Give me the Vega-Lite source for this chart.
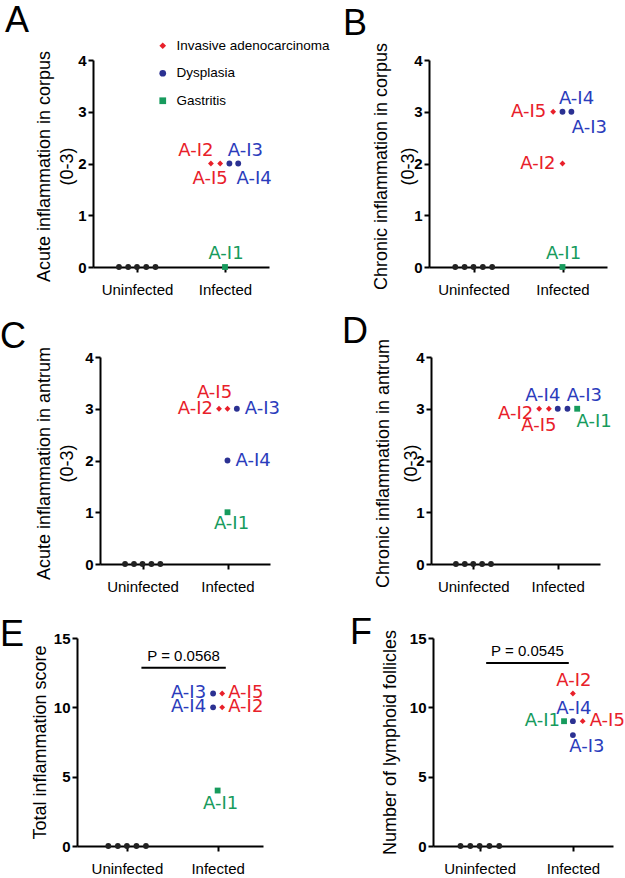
{
  "$schema": "https://vega.github.io/schema/vega-lite/v6.json",
  "background": "white",
  "padding": {"left": 0, "top": 3, "right": 0, "bottom": 0},
  "datasets": {
    "pts": [
      {"panel":"A","type":"Uninfected","id":"","dir":"","x":0.795,"y":0},
      {"panel":"A","type":"Uninfected","id":"","dir":"","x":0.9,"y":0},
      {"panel":"A","type":"Uninfected","id":"","dir":"","x":1.0,"y":0},
      {"panel":"A","type":"Uninfected","id":"","dir":"","x":1.105,"y":0},
      {"panel":"A","type":"Uninfected","id":"","dir":"","x":1.21,"y":0},
      {"panel":"A","type":"Invasive adenocarcinoma","id":"A-I2","dir":"nw","x":1.84,"y":2},
      {"panel":"A","type":"Invasive adenocarcinoma","id":"A-I5","dir":"sw","x":1.945,"y":2},
      {"panel":"A","type":"Dysplasia","id":"A-I3","dir":"ne","x":2.05,"y":2},
      {"panel":"A","type":"Dysplasia","id":"A-I4","dir":"se","x":2.15,"y":2},
      {"panel":"A","type":"Gastritis","id":"A-I1","dir":"n","x":2.0,"y":0},

      {"panel":"B","type":"Uninfected","id":"","dir":"","x":0.795,"y":0},
      {"panel":"B","type":"Uninfected","id":"","dir":"","x":0.9,"y":0},
      {"panel":"B","type":"Uninfected","id":"","dir":"","x":1.0,"y":0},
      {"panel":"B","type":"Uninfected","id":"","dir":"","x":1.105,"y":0},
      {"panel":"B","type":"Uninfected","id":"","dir":"","x":1.21,"y":0},
      {"panel":"B","type":"Invasive adenocarcinoma","id":"A-I5","dir":"w","x":1.895,"y":3},
      {"panel":"B","type":"Dysplasia","id":"A-I4","dir":"ne","x":2.0,"y":3},
      {"panel":"B","type":"Dysplasia","id":"A-I3","dir":"se","x":2.1,"y":3},
      {"panel":"B","type":"Invasive adenocarcinoma","id":"A-I2","dir":"w","x":2.0,"y":2},
      {"panel":"B","type":"Gastritis","id":"A-I1","dir":"n","x":2.0,"y":0},

      {"panel":"C","type":"Uninfected","id":"","dir":"","x":0.795,"y":0},
      {"panel":"C","type":"Uninfected","id":"","dir":"","x":0.9,"y":0},
      {"panel":"C","type":"Uninfected","id":"","dir":"","x":1.0,"y":0},
      {"panel":"C","type":"Uninfected","id":"","dir":"","x":1.105,"y":0},
      {"panel":"C","type":"Uninfected","id":"","dir":"","x":1.21,"y":0},
      {"panel":"C","type":"Invasive adenocarcinoma","id":"A-I2","dir":"w","x":1.9,"y":3},
      {"panel":"C","type":"Invasive adenocarcinoma","id":"A-I5","dir":"nw","x":2.0,"y":3},
      {"panel":"C","type":"Dysplasia","id":"A-I3","dir":"e","x":2.11,"y":3},
      {"panel":"C","type":"Dysplasia","id":"A-I4","dir":"e","x":2.0,"y":2},
      {"panel":"C","type":"Gastritis","id":"A-I1","dir":"s","x":2.0,"y":1},

      {"panel":"D","type":"Uninfected","id":"","dir":"","x":0.795,"y":0},
      {"panel":"D","type":"Uninfected","id":"","dir":"","x":0.9,"y":0},
      {"panel":"D","type":"Uninfected","id":"","dir":"","x":1.0,"y":0},
      {"panel":"D","type":"Uninfected","id":"","dir":"","x":1.105,"y":0},
      {"panel":"D","type":"Uninfected","id":"","dir":"","x":1.21,"y":0},
      {"panel":"D","type":"Invasive adenocarcinoma","id":"A-I2","dir":"w","x":1.78,"y":3},
      {"panel":"D","type":"Invasive adenocarcinoma","id":"A-I5","dir":"sw","x":1.895,"y":3},
      {"panel":"D","type":"Dysplasia","id":"A-I4","dir":"nw","x":2.0,"y":3},
      {"panel":"D","type":"Dysplasia","id":"A-I3","dir":"ne","x":2.115,"y":3},
      {"panel":"D","type":"Gastritis","id":"A-I1","dir":"se","x":2.23,"y":3},

      {"panel":"E","type":"Uninfected","id":"","dir":"","x":0.795,"y":0},
      {"panel":"E","type":"Uninfected","id":"","dir":"","x":0.9,"y":0},
      {"panel":"E","type":"Uninfected","id":"","dir":"","x":1.0,"y":0},
      {"panel":"E","type":"Uninfected","id":"","dir":"","x":1.105,"y":0},
      {"panel":"E","type":"Uninfected","id":"","dir":"","x":1.21,"y":0},
      {"panel":"E","type":"Dysplasia","id":"A-I3","dir":"w","x":1.95,"y":11},
      {"panel":"E","type":"Dysplasia","id":"A-I4","dir":"w","x":1.95,"y":10},
      {"panel":"E","type":"Invasive adenocarcinoma","id":"A-I5","dir":"e","x":2.05,"y":11},
      {"panel":"E","type":"Invasive adenocarcinoma","id":"A-I2","dir":"e","x":2.05,"y":10},
      {"panel":"E","type":"Gastritis","id":"A-I1","dir":"s","x":2.0,"y":4},

      {"panel":"F","type":"Uninfected","id":"","dir":"","x":0.795,"y":0},
      {"panel":"F","type":"Uninfected","id":"","dir":"","x":0.9,"y":0},
      {"panel":"F","type":"Uninfected","id":"","dir":"","x":1.0,"y":0},
      {"panel":"F","type":"Uninfected","id":"","dir":"","x":1.105,"y":0},
      {"panel":"F","type":"Uninfected","id":"","dir":"","x":1.21,"y":0},
      {"panel":"F","type":"Invasive adenocarcinoma","id":"A-I2","dir":"n","x":2.0,"y":11},
      {"panel":"F","type":"Dysplasia","id":"A-I4","dir":"n","x":2.0,"y":9},
      {"panel":"F","type":"Gastritis","id":"A-I1","dir":"w","x":1.905,"y":9},
      {"panel":"F","type":"Invasive adenocarcinoma","id":"A-I5","dir":"e","x":2.105,"y":9},
      {"panel":"F","type":"Dysplasia","id":"A-I3","dir":"se","x":2.0,"y":8}
    ],
    "pv": [
      {"panel":"E","kind":"line","x":1.16,"x2":2.09,"y":12.85,"label":""},
      {"panel":"E","kind":"text","x":1.625,"x2":1.625,"y":12.85,"label":"P = 0.0568"},
      {"panel":"F","kind":"line","x":1.07,"x2":1.956,"y":13.2,"label":""},
      {"panel":"F","kind":"text","x":1.513,"x2":1.513,"y":13.2,"label":"P = 0.0545"}
    ]
  },
  "spacing": 17,
  "resolve": {"scale": {"color": "independent", "shape": "independent", "fill": "independent"}},
  "vconcat": [
    {
      "hconcat": [
        {"width": 93, "height": 10, "data": {"values": [{}]}, "mark": {"type": "text", "opacity": 0}, "encoding": {"text": {"value": ""}}},
        {
          "width": 176, "height": 207,
          "title": {"text": "A", "anchor": "start", "frame": "group", "offset": 0, "dx": -88, "dy": 29, "fontSize": 36, "font": "Liberation Sans", "fontWeight": "normal", "color": "black", "baseline": "alphabetic"},
          "data": {"name": "pts"},
          "transform": [{"filter": "datum.panel == 'A'"}],
          "encoding": {
            "x": {"field": "x", "type": "quantitative", "scale": {"domain": [0.5, 2.5], "nice": false, "zero": false}, "axis": {"values": [1, 2], "labelExpr": "datum.value == 1 ? 'Uninfected' : 'Infected'", "title": null}},
            "y": {"field": "y", "type": "quantitative", "scale": {"domain": [0, 4], "nice": false}, "axis": {"values": [0, 1, 2, 3, 4], "format": "d", "title": ["Acute inflammation in corpus", "(0-3)"], "titleX": -39.5, "titleY": 106, "titleLineHeight": 23}}
          },
          "layer": [
            {"mark": {"type": "point", "filled": true, "opacity": 1, "size": 34},
             "encoding": {
               "color": {"field": "type", "type": "nominal", "scale": {"domain": ["Invasive adenocarcinoma", "Dysplasia", "Gastritis", "Uninfected"], "range": ["#e8202a", "#2b3192", "#179b5d", "#222222"]},
                 "legend": {"title": null, "orient": "none", "legendX": 63, "legendY": -21, "values": ["Invasive adenocarcinoma", "Dysplasia", "Gastritis"], "padding": 0, "labelFont": "Liberation Sans", "labelFontSize": 13.5, "labelColor": "black", "labelLimit": 300, "labelOffset": 7, "rowPadding": 12.5, "symbolSize": 45, "symbolStrokeWidth": 0}},
               "shape": {"field": "type", "type": "nominal", "scale": {"domain": ["Invasive adenocarcinoma", "Dysplasia", "Gastritis", "Uninfected"], "range": ["diamond", "circle", "square", "circle"]},
                 "legend": {"title": null, "orient": "none", "legendX": 63, "legendY": -21, "values": ["Invasive adenocarcinoma", "Dysplasia", "Gastritis"], "padding": 0, "labelFont": "Liberation Sans", "labelFontSize": 13.5, "labelColor": "black", "labelLimit": 300, "labelOffset": 7, "rowPadding": 12.5, "symbolSize": 45, "symbolStrokeWidth": 0}}
             }},
            {"transform": [{"filter": "datum.dir == 'nw'"}], "mark": {"type": "text", "font": "DejaVu Sans", "fontSize": 18, "align": "center", "baseline": "middle", "dx": -15, "dy": -13}, "encoding": {"text": {"field": "id"}, "fill": {"field": "type", "type": "nominal", "scale": {"domain": ["Invasive adenocarcinoma", "Dysplasia", "Gastritis", "Uninfected"], "range": ["#e8202a", "#2b3cbc", "#179b5d", "#222222"]}, "legend": null}}},
            {"transform": [{"filter": "datum.dir == 'sw'"}], "mark": {"type": "text", "font": "DejaVu Sans", "fontSize": 18, "align": "center", "baseline": "middle", "dx": -10, "dy": 15}, "encoding": {"text": {"field": "id"}, "fill": {"field": "type", "type": "nominal", "scale": {"domain": ["Invasive adenocarcinoma", "Dysplasia", "Gastritis", "Uninfected"], "range": ["#e8202a", "#2b3cbc", "#179b5d", "#222222"]}, "legend": null}}},
            {"transform": [{"filter": "datum.dir == 'ne'"}], "mark": {"type": "text", "font": "DejaVu Sans", "fontSize": 18, "align": "center", "baseline": "middle", "dx": 16, "dy": -13}, "encoding": {"text": {"field": "id"}, "fill": {"field": "type", "type": "nominal", "scale": {"domain": ["Invasive adenocarcinoma", "Dysplasia", "Gastritis", "Uninfected"], "range": ["#e8202a", "#2b3cbc", "#179b5d", "#222222"]}, "legend": null}}},
            {"transform": [{"filter": "datum.dir == 'se'"}], "mark": {"type": "text", "font": "DejaVu Sans", "fontSize": 18, "align": "center", "baseline": "middle", "dx": 16, "dy": 15}, "encoding": {"text": {"field": "id"}, "fill": {"field": "type", "type": "nominal", "scale": {"domain": ["Invasive adenocarcinoma", "Dysplasia", "Gastritis", "Uninfected"], "range": ["#e8202a", "#2b3cbc", "#179b5d", "#222222"]}, "legend": null}}},
            {"transform": [{"filter": "datum.dir == 'n'"}], "mark": {"type": "text", "font": "DejaVu Sans", "fontSize": 18, "align": "center", "baseline": "middle", "dx": 1, "dy": -13}, "encoding": {"text": {"field": "id"}, "fill": {"field": "type", "type": "nominal", "scale": {"domain": ["Invasive adenocarcinoma", "Dysplasia", "Gastritis", "Uninfected"], "range": ["#e8202a", "#2b3cbc", "#179b5d", "#222222"]}, "legend": null}}}
          ]
        },
        {"width": 160, "height": 10, "data": {"values": [{}]}, "mark": {"type": "text", "opacity": 0}, "encoding": {"text": {"value": ""}}},
        {
          "width": 178, "height": 207,
          "title": {"text": "B", "anchor": "start", "frame": "group", "offset": 0, "dx": -86, "dy": 29, "fontSize": 36, "font": "Liberation Sans", "fontWeight": "normal", "color": "black", "baseline": "alphabetic"},
          "data": {"name": "pts"},
          "transform": [{"filter": "datum.panel == 'B'"}],
          "encoding": {
            "x": {"field": "x", "type": "quantitative", "scale": {"domain": [0.5, 2.5], "nice": false, "zero": false}, "axis": {"values": [1, 2], "labelExpr": "datum.value == 1 ? 'Uninfected' : 'Infected'", "title": null}},
            "y": {"field": "y", "type": "quantitative", "scale": {"domain": [0, 4], "nice": false}, "axis": {"values": [0, 1, 2, 3, 4], "format": "d", "title": ["Chronic inflammation in corpus", "(0-3)"], "titleX": -38.5, "titleY": 106, "titleLineHeight": 27}}
          },
          "layer": [
            {"mark": {"type": "point", "filled": true, "opacity": 1, "size": 34},
             "encoding": {
               "color": {"field": "type", "type": "nominal", "scale": {"domain": ["Invasive adenocarcinoma", "Dysplasia", "Gastritis", "Uninfected"], "range": ["#e8202a", "#2b3192", "#179b5d", "#222222"]}, "legend": null},
               "shape": {"field": "type", "type": "nominal", "scale": {"domain": ["Invasive adenocarcinoma", "Dysplasia", "Gastritis", "Uninfected"], "range": ["diamond", "circle", "square", "circle"]}, "legend": null}
             }},
            {"transform": [{"filter": "datum.dir == 'w'"}], "mark": {"type": "text", "font": "DejaVu Sans", "fontSize": 18, "align": "right", "baseline": "middle", "dx": -7, "dy": 0}, "encoding": {"text": {"field": "id"}, "fill": {"field": "type", "type": "nominal", "scale": {"domain": ["Invasive adenocarcinoma", "Dysplasia", "Gastritis", "Uninfected"], "range": ["#e8202a", "#2b3cbc", "#179b5d", "#222222"]}, "legend": null}}},
            {"transform": [{"filter": "datum.dir == 'ne'"}], "mark": {"type": "text", "font": "DejaVu Sans", "fontSize": 18, "align": "center", "baseline": "middle", "dx": 14, "dy": -13}, "encoding": {"text": {"field": "id"}, "fill": {"field": "type", "type": "nominal", "scale": {"domain": ["Invasive adenocarcinoma", "Dysplasia", "Gastritis", "Uninfected"], "range": ["#e8202a", "#2b3cbc", "#179b5d", "#222222"]}, "legend": null}}},
            {"transform": [{"filter": "datum.dir == 'se'"}], "mark": {"type": "text", "font": "DejaVu Sans", "fontSize": 18, "align": "center", "baseline": "middle", "dx": 18, "dy": 16}, "encoding": {"text": {"field": "id"}, "fill": {"field": "type", "type": "nominal", "scale": {"domain": ["Invasive adenocarcinoma", "Dysplasia", "Gastritis", "Uninfected"], "range": ["#e8202a", "#2b3cbc", "#179b5d", "#222222"]}, "legend": null}}},
            {"transform": [{"filter": "datum.dir == 'n'"}], "mark": {"type": "text", "font": "DejaVu Sans", "fontSize": 18, "align": "center", "baseline": "middle", "dx": 1, "dy": -13}, "encoding": {"text": {"field": "id"}, "fill": {"field": "type", "type": "nominal", "scale": {"domain": ["Invasive adenocarcinoma", "Dysplasia", "Gastritis", "Uninfected"], "range": ["#e8202a", "#2b3cbc", "#179b5d", "#222222"]}, "legend": null}}}
          ]
        }
      ],
      "spacing": 0,
      "bounds": "flush",
      "resolve": {"scale": {"color": "independent", "shape": "independent", "fill": "independent"}}
    },
    {
      "spacing": 21,
      "resolve": {"scale": {"color": "independent", "shape": "independent", "fill": "independent"}},
      "vconcat": [
        {
          "hconcat": [
            {"width": 100, "height": 10, "data": {"values": [{}]}, "mark": {"type": "text", "opacity": 0}, "encoding": {"text": {"value": ""}}},
            {
              "width": 170, "height": 207,
              "title": {"text": "C", "anchor": "start", "frame": "group", "offset": 0, "dx": -100, "dy": 38, "fontSize": 36, "font": "Liberation Sans", "fontWeight": "normal", "color": "black", "baseline": "alphabetic"},
              "data": {"name": "pts"},
              "transform": [{"filter": "datum.panel == 'C'"}],
              "encoding": {
                "x": {"field": "x", "type": "quantitative", "scale": {"domain": [0.5, 2.5], "nice": false, "zero": false}, "axis": {"values": [1, 2], "labelExpr": "datum.value == 1 ? 'Uninfected' : 'Infected'", "title": null}},
                "y": {"field": "y", "type": "quantitative", "scale": {"domain": [0, 4], "nice": false}, "axis": {"values": [0, 1, 2, 3, 4], "format": "d", "title": ["Acute inflammation in antrum", "(0-3)"], "titleX": -46.5, "titleY": 106, "titleLineHeight": 23}}
              },
              "layer": [
                {"mark": {"type": "point", "filled": true, "opacity": 1, "size": 34},
                 "encoding": {
                   "color": {"field": "type", "type": "nominal", "scale": {"domain": ["Invasive adenocarcinoma", "Dysplasia", "Gastritis", "Uninfected"], "range": ["#e8202a", "#2b3192", "#179b5d", "#222222"]}, "legend": null},
                   "shape": {"field": "type", "type": "nominal", "scale": {"domain": ["Invasive adenocarcinoma", "Dysplasia", "Gastritis", "Uninfected"], "range": ["diamond", "circle", "square", "circle"]}, "legend": null}
                 }},
                {"transform": [{"filter": "datum.dir == 'w'"}], "mark": {"type": "text", "font": "DejaVu Sans", "fontSize": 18, "align": "right", "baseline": "middle", "dx": -6, "dy": 0}, "encoding": {"text": {"field": "id"}, "fill": {"field": "type", "type": "nominal", "scale": {"domain": ["Invasive adenocarcinoma", "Dysplasia", "Gastritis", "Uninfected"], "range": ["#e8202a", "#2b3cbc", "#179b5d", "#222222"]}, "legend": null}}},
                {"transform": [{"filter": "datum.dir == 'nw'"}], "mark": {"type": "text", "font": "DejaVu Sans", "fontSize": 18, "align": "center", "baseline": "middle", "dx": -13, "dy": -16}, "encoding": {"text": {"field": "id"}, "fill": {"field": "type", "type": "nominal", "scale": {"domain": ["Invasive adenocarcinoma", "Dysplasia", "Gastritis", "Uninfected"], "range": ["#e8202a", "#2b3cbc", "#179b5d", "#222222"]}, "legend": null}}},
                {"transform": [{"filter": "datum.dir == 'e'"}], "mark": {"type": "text", "font": "DejaVu Sans", "fontSize": 18, "align": "left", "baseline": "middle", "dx": 8, "dy": 0}, "encoding": {"text": {"field": "id"}, "fill": {"field": "type", "type": "nominal", "scale": {"domain": ["Invasive adenocarcinoma", "Dysplasia", "Gastritis", "Uninfected"], "range": ["#e8202a", "#2b3cbc", "#179b5d", "#222222"]}, "legend": null}}},
                {"transform": [{"filter": "datum.dir == 's'"}], "mark": {"type": "text", "font": "DejaVu Sans", "fontSize": 18, "align": "center", "baseline": "middle", "dx": 4, "dy": 12}, "encoding": {"text": {"field": "id"}, "fill": {"field": "type", "type": "nominal", "scale": {"domain": ["Invasive adenocarcinoma", "Dysplasia", "Gastritis", "Uninfected"], "range": ["#e8202a", "#2b3cbc", "#179b5d", "#222222"]}, "legend": null}}}
              ]
            },
            {"width": 161, "height": 10, "data": {"values": [{}]}, "mark": {"type": "text", "opacity": 0}, "encoding": {"text": {"value": ""}}},
            {
              "width": 169, "height": 207,
              "title": {"text": "D", "anchor": "start", "frame": "group", "offset": 0, "dx": -89, "dy": 41, "fontSize": 36, "font": "Liberation Sans", "fontWeight": "normal", "color": "black", "baseline": "alphabetic"},
              "data": {"name": "pts"},
              "transform": [{"filter": "datum.panel == 'D'"}],
              "encoding": {
                "x": {"field": "x", "type": "quantitative", "scale": {"domain": [0.5, 2.5], "nice": false, "zero": false}, "axis": {"values": [1, 2], "labelExpr": "datum.value == 1 ? 'Uninfected' : 'Infected'", "title": null}},
                "y": {"field": "y", "type": "quantitative", "scale": {"domain": [0, 4], "nice": false}, "axis": {"values": [0, 1, 2, 3, 4], "format": "d", "title": ["Chronic inflammation in antrum", "(0-3)"], "titleX": -39, "titleY": 106, "titleLineHeight": 28}}
              },
              "layer": [
                {"mark": {"type": "point", "filled": true, "opacity": 1, "size": 34},
                 "encoding": {
                   "color": {"field": "type", "type": "nominal", "scale": {"domain": ["Invasive adenocarcinoma", "Dysplasia", "Gastritis", "Uninfected"], "range": ["#e8202a", "#2b3192", "#179b5d", "#222222"]}, "legend": null},
                   "shape": {"field": "type", "type": "nominal", "scale": {"domain": ["Invasive adenocarcinoma", "Dysplasia", "Gastritis", "Uninfected"], "range": ["diamond", "circle", "square", "circle"]}, "legend": null}
                 }},
                {"transform": [{"filter": "datum.dir == 'w'"}], "mark": {"type": "text", "font": "DejaVu Sans", "fontSize": 18, "align": "right", "baseline": "middle", "dx": -6, "dy": 5}, "encoding": {"text": {"field": "id"}, "fill": {"field": "type", "type": "nominal", "scale": {"domain": ["Invasive adenocarcinoma", "Dysplasia", "Gastritis", "Uninfected"], "range": ["#e8202a", "#2b3cbc", "#179b5d", "#222222"]}, "legend": null}}},
                {"transform": [{"filter": "datum.dir == 'sw'"}], "mark": {"type": "text", "font": "DejaVu Sans", "fontSize": 18, "align": "center", "baseline": "middle", "dx": -10, "dy": 17}, "encoding": {"text": {"field": "id"}, "fill": {"field": "type", "type": "nominal", "scale": {"domain": ["Invasive adenocarcinoma", "Dysplasia", "Gastritis", "Uninfected"], "range": ["#e8202a", "#2b3cbc", "#179b5d", "#222222"]}, "legend": null}}},
                {"transform": [{"filter": "datum.dir == 'nw'"}], "mark": {"type": "text", "font": "DejaVu Sans", "fontSize": 18, "align": "center", "baseline": "middle", "dx": -15, "dy": -13}, "encoding": {"text": {"field": "id"}, "fill": {"field": "type", "type": "nominal", "scale": {"domain": ["Invasive adenocarcinoma", "Dysplasia", "Gastritis", "Uninfected"], "range": ["#e8202a", "#2b3cbc", "#179b5d", "#222222"]}, "legend": null}}},
                {"transform": [{"filter": "datum.dir == 'ne'"}], "mark": {"type": "text", "font": "DejaVu Sans", "fontSize": 18, "align": "center", "baseline": "middle", "dx": 17, "dy": -13}, "encoding": {"text": {"field": "id"}, "fill": {"field": "type", "type": "nominal", "scale": {"domain": ["Invasive adenocarcinoma", "Dysplasia", "Gastritis", "Uninfected"], "range": ["#e8202a", "#2b3cbc", "#179b5d", "#222222"]}, "legend": null}}},
                {"transform": [{"filter": "datum.dir == 'se'"}], "mark": {"type": "text", "font": "DejaVu Sans", "fontSize": 18, "align": "center", "baseline": "middle", "dx": 17, "dy": 13}, "encoding": {"text": {"field": "id"}, "fill": {"field": "type", "type": "nominal", "scale": {"domain": ["Invasive adenocarcinoma", "Dysplasia", "Gastritis", "Uninfected"], "range": ["#e8202a", "#2b3cbc", "#179b5d", "#222222"]}, "legend": null}}}
              ]
            }
          ],
          "spacing": 0,
          "bounds": "flush",
          "resolve": {"scale": {"color": "independent", "shape": "independent", "fill": "independent"}}
        },
        {
          "hconcat": [
            {"width": 77, "height": 10, "data": {"values": [{}]}, "mark": {"type": "text", "opacity": 0}, "encoding": {"text": {"value": ""}}},
            {
              "width": 186, "height": 208,
              "title": {"text": "E", "anchor": "start", "frame": "group", "offset": 0, "dx": -77, "dy": 51, "fontSize": 36, "font": "Liberation Sans", "fontWeight": "normal", "color": "black", "baseline": "alphabetic"},
              "data": {"name": "pts"},
              "transform": [{"filter": "datum.panel == 'E'"}],
              "encoding": {
                "x": {"field": "x", "type": "quantitative", "scale": {"domain": [0.45, 2.5], "nice": false, "zero": false}, "axis": {"values": [1, 2], "labelExpr": "datum.value == 1 ? 'Uninfected' : 'Infected'", "title": null}},
                "y": {"field": "y", "type": "quantitative", "scale": {"domain": [0, 15], "nice": false}, "axis": {"values": [0, 5, 10, 15], "format": "d", "title": "Total inflammation score", "titleX": -27.5}}
              },
              "layer": [
                {"mark": {"type": "point", "filled": true, "opacity": 1, "size": 34},
                 "encoding": {
                   "color": {"field": "type", "type": "nominal", "scale": {"domain": ["Invasive adenocarcinoma", "Dysplasia", "Gastritis", "Uninfected"], "range": ["#e8202a", "#2b3192", "#179b5d", "#222222"]}, "legend": null},
                   "shape": {"field": "type", "type": "nominal", "scale": {"domain": ["Invasive adenocarcinoma", "Dysplasia", "Gastritis", "Uninfected"], "range": ["diamond", "circle", "square", "circle"]}, "legend": null}
                 }},
                {"transform": [{"filter": "datum.dir == 'w'"}], "mark": {"type": "text", "font": "DejaVu Sans", "fontSize": 18, "align": "right", "baseline": "middle", "dx": -7, "dy": 0}, "encoding": {"text": {"field": "id"}, "fill": {"field": "type", "type": "nominal", "scale": {"domain": ["Invasive adenocarcinoma", "Dysplasia", "Gastritis", "Uninfected"], "range": ["#e8202a", "#2b3cbc", "#179b5d", "#222222"]}, "legend": null}}},
                {"transform": [{"filter": "datum.dir == 'e'"}], "mark": {"type": "text", "font": "DejaVu Sans", "fontSize": 18, "align": "left", "baseline": "middle", "dx": 6, "dy": 0}, "encoding": {"text": {"field": "id"}, "fill": {"field": "type", "type": "nominal", "scale": {"domain": ["Invasive adenocarcinoma", "Dysplasia", "Gastritis", "Uninfected"], "range": ["#e8202a", "#2b3cbc", "#179b5d", "#222222"]}, "legend": null}}},
                {"transform": [{"filter": "datum.dir == 's'"}], "mark": {"type": "text", "font": "DejaVu Sans", "fontSize": 18, "align": "center", "baseline": "middle", "dx": 3, "dy": 13}, "encoding": {"text": {"field": "id"}, "fill": {"field": "type", "type": "nominal", "scale": {"domain": ["Invasive adenocarcinoma", "Dysplasia", "Gastritis", "Uninfected"], "range": ["#e8202a", "#2b3cbc", "#179b5d", "#222222"]}, "legend": null}}},
                {"data": {"name": "pv"}, "transform": [{"filter": "datum.panel == 'E' && datum.kind == 'line'"}], "mark": {"type": "rule", "strokeWidth": 2, "color": "black"}, "encoding": {"x2": {"field": "x2"}}},
                {"data": {"name": "pv"}, "transform": [{"filter": "datum.panel == 'E' && datum.kind == 'text'"}], "mark": {"type": "text", "font": "Liberation Sans", "fontSize": 15, "align": "center", "baseline": "middle", "dy": -12, "color": "black"}, "encoding": {"text": {"field": "label"}}}
              ]
            },
            {"width": 170, "height": 10, "data": {"values": [{}]}, "mark": {"type": "text", "opacity": 0}, "encoding": {"text": {"value": ""}}},
            {
              "width": 180, "height": 208,
              "title": {"text": "F", "anchor": "start", "frame": "group", "offset": 0, "dx": -83, "dy": 51, "fontSize": 36, "font": "Liberation Sans", "fontWeight": "normal", "color": "black", "baseline": "alphabetic"},
              "data": {"name": "pts"},
              "transform": [{"filter": "datum.panel == 'F'"}],
              "encoding": {
                "x": {"field": "x", "type": "quantitative", "scale": {"domain": [0.5, 2.43], "nice": false, "zero": false}, "axis": {"values": [1, 2], "labelExpr": "datum.value == 1 ? 'Uninfected' : 'Infected'", "title": null}},
                "y": {"field": "y", "type": "quantitative", "scale": {"domain": [0, 15], "nice": false}, "axis": {"values": [0, 5, 10, 15], "format": "d", "title": "Number of lymphoid follicles", "titleX": -33.5}}
              },
              "layer": [
                {"mark": {"type": "point", "filled": true, "opacity": 1, "size": 34},
                 "encoding": {
                   "color": {"field": "type", "type": "nominal", "scale": {"domain": ["Invasive adenocarcinoma", "Dysplasia", "Gastritis", "Uninfected"], "range": ["#e8202a", "#2b3192", "#179b5d", "#222222"]}, "legend": null},
                   "shape": {"field": "type", "type": "nominal", "scale": {"domain": ["Invasive adenocarcinoma", "Dysplasia", "Gastritis", "Uninfected"], "range": ["diamond", "circle", "square", "circle"]}, "legend": null}
                 }},
                {"transform": [{"filter": "datum.dir == 'n'"}], "mark": {"type": "text", "font": "DejaVu Sans", "fontSize": 18, "align": "center", "baseline": "middle", "dx": 1, "dy": -12}, "encoding": {"text": {"field": "id"}, "fill": {"field": "type", "type": "nominal", "scale": {"domain": ["Invasive adenocarcinoma", "Dysplasia", "Gastritis", "Uninfected"], "range": ["#e8202a", "#2b3cbc", "#179b5d", "#222222"]}, "legend": null}}},
                {"transform": [{"filter": "datum.dir == 'w'"}], "mark": {"type": "text", "font": "DejaVu Sans", "fontSize": 18, "align": "right", "baseline": "middle", "dx": -4, "dy": 0}, "encoding": {"text": {"field": "id"}, "fill": {"field": "type", "type": "nominal", "scale": {"domain": ["Invasive adenocarcinoma", "Dysplasia", "Gastritis", "Uninfected"], "range": ["#e8202a", "#2b3cbc", "#179b5d", "#222222"]}, "legend": null}}},
                {"transform": [{"filter": "datum.dir == 'e'"}], "mark": {"type": "text", "font": "DejaVu Sans", "fontSize": 18, "align": "left", "baseline": "middle", "dx": 7, "dy": 0}, "encoding": {"text": {"field": "id"}, "fill": {"field": "type", "type": "nominal", "scale": {"domain": ["Invasive adenocarcinoma", "Dysplasia", "Gastritis", "Uninfected"], "range": ["#e8202a", "#2b3cbc", "#179b5d", "#222222"]}, "legend": null}}},
                {"transform": [{"filter": "datum.dir == 'se'"}], "mark": {"type": "text", "font": "DejaVu Sans", "fontSize": 18, "align": "center", "baseline": "middle", "dx": 14, "dy": 12}, "encoding": {"text": {"field": "id"}, "fill": {"field": "type", "type": "nominal", "scale": {"domain": ["Invasive adenocarcinoma", "Dysplasia", "Gastritis", "Uninfected"], "range": ["#e8202a", "#2b3cbc", "#179b5d", "#222222"]}, "legend": null}}},
                {"data": {"name": "pv"}, "transform": [{"filter": "datum.panel == 'F' && datum.kind == 'line'"}], "mark": {"type": "rule", "strokeWidth": 2, "color": "black"}, "encoding": {"x2": {"field": "x2"}}},
                {"data": {"name": "pv"}, "transform": [{"filter": "datum.panel == 'F' && datum.kind == 'text'"}], "mark": {"type": "text", "font": "Liberation Sans", "fontSize": 15, "align": "center", "baseline": "middle", "dy": -12, "color": "black"}, "encoding": {"text": {"field": "label"}}}
              ]
            }
          ],
          "spacing": 0,
          "bounds": "flush",
          "resolve": {"scale": {"color": "independent", "shape": "independent", "fill": "independent"}}
        }
      ]
    }
  ],
  "config": {
    "view": {"stroke": null},
    "font": "Liberation Sans",
    "axis": {"domainColor": "black", "domainWidth": 2, "tickColor": "black", "tickWidth": 2, "tickSize": 5, "labelColor": "black", "titleColor": "black", "labelFont": "Liberation Sans", "titleFont": "Liberation Sans", "grid": false, "labelFlush": false, "labelOverlap": false},
    "axisY": {"labelFontSize": 15, "labelFontWeight": "bold", "labelPadding": 2, "titleFontSize": 18, "titleFontWeight": "normal", "titleLineHeight": 22},
    "axisX": {"labelFontSize": 15, "labelPadding": 10, "labelFontWeight": "normal"}
  }
}
